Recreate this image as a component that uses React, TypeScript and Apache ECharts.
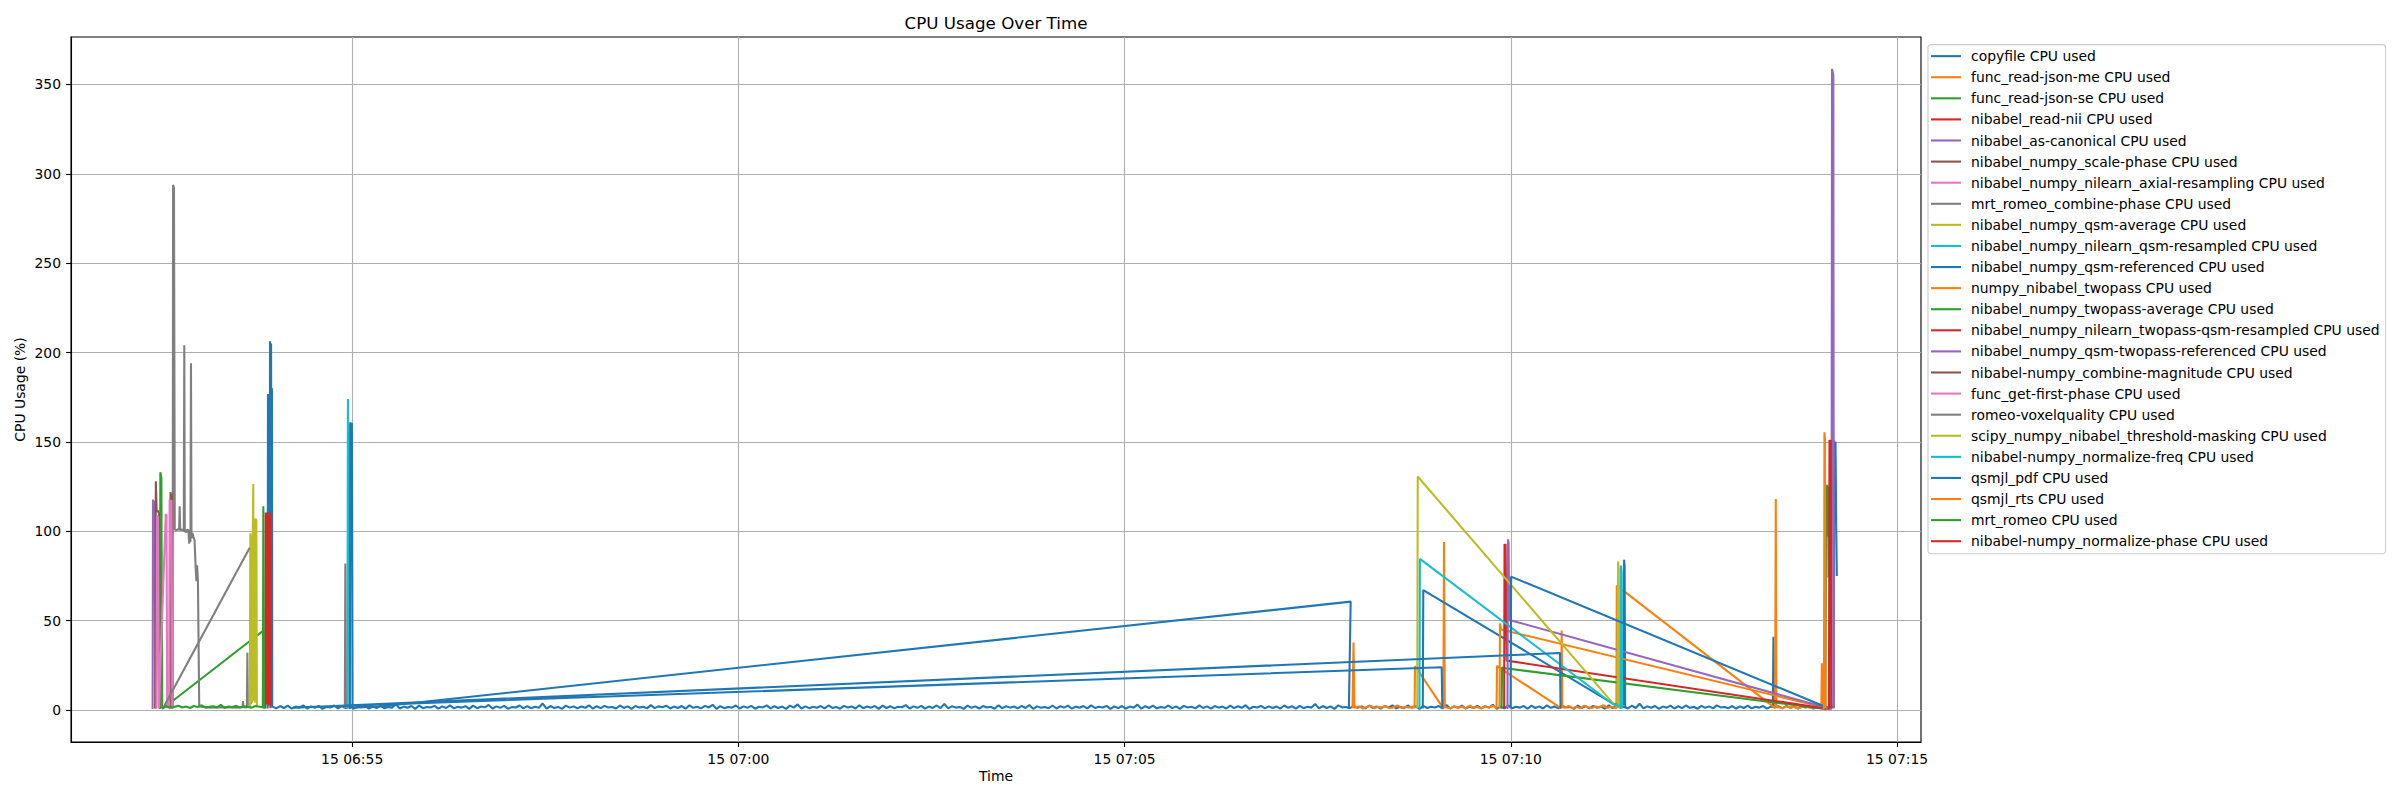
import React, { useEffect, useRef } from "react";
import * as echarts from "echarts";

type Pt = [string, number | "-"];

const FONT = "DejaVu Sans";
const COLORS = ["#1f77b4", "#ff7f0e", "#2ca02c", "#d62728", "#9467bd", "#8c564b", "#e377c2", "#7f7f7f", "#bcbd22", "#17becf"];

const seriesNames = [
  "copyfile CPU used",
  "func_read-json-me CPU used",
  "func_read-json-se CPU used",
  "nibabel_read-nii CPU used",
  "nibabel_as-canonical CPU used",
  "nibabel_numpy_scale-phase CPU used",
  "nibabel_numpy_nilearn_axial-resampling CPU used",
  "mrt_romeo_combine-phase CPU used",
  "nibabel_numpy_qsm-average CPU used",
  "nibabel_numpy_nilearn_qsm-resampled CPU used",
  "nibabel_numpy_qsm-referenced CPU used",
  "numpy_nibabel_twopass CPU used",
  "nibabel_numpy_twopass-average CPU used",
  "nibabel_numpy_nilearn_twopass-qsm-resampled CPU used",
  "nibabel_numpy_qsm-twopass-referenced CPU used",
  "nibabel-numpy_combine-magnitude CPU used",
  "func_get-first-phase CPU used",
  "romeo-voxelquality CPU used",
  "scipy_numpy_nibabel_threshold-masking CPU used",
  "nibabel-numpy_normalize-freq CPU used",
  "qsmjl_pdf CPU used",
  "qsmjl_rts CPU used",
  "mrt_romeo CPU used",
  "nibabel-numpy_normalize-phase CPU used",
];

const xTickTimes = ["06:55:00", "07:00:00", "07:05:00", "07:10:00", "07:15:00"];
const yTickValues = [0, 50, 100, 150, 200, 250, 300, 350];
const X_MIN_TIME = "06:51:21.6";
const X_MAX_TIME = "07:15:18.6";
const Y_MIN = -17.93;
const Y_MAX = 376.55;

// ---- copyfile (sampled every 3 s from 06:53:58) ----
const copyfileSpikes: Pt[] = [
  ["06:53:54.3", 0.8], ["06:53:54.6", 176.8], ["06:53:55.0", 2], ["06:53:55.4", 176], ["06:53:55.8", 3],
  ["06:53:56.2", 206.3], ["06:53:56.6", 4], ["06:53:57.0", 205], ["06:53:57.4", 3], ["06:53:57.7", 180], ["06:53:57.9", 2],
];
const copyfileNoiseA = [
  1.8, 0.9, 2.2, 1.1, 2.4, 0.7, 1.9, 1.3, 2.6, 0.8, 2.0, 1.2, 2.3, 0.6, 1.7, 1.4, 2.5, 0.9, 2.1, 1.0,
  2.2, 0.8, 1.8, 1.5, 2.7, 0.7, 2.0, 1.1, 2.4, 0.9, 1.6, 1.3, 3.2, 0.8, 1.9, 1.2, 2.2, 0.6, 2.5, 1.0,
  1.7, 1.4, 2.3, 0.7, 2.0, 1.1, 2.6, 0.9, 1.8, 1.3, 2.1, 0.6, 2.4, 1.0, 1.9, 1.5, 2.8, 0.8, 2.0, 1.2,
  2.3, 0.7, 1.6, 1.4, 2.5, 0.9, 2.1, 1.0, 1.8, 1.2, 3.6, 0.8, 2.2, 1.1, 1.7, 0.6, 2.4, 1.3, 2.0, 0.9,
  1.9, 1.2, 2.6, 0.7, 2.1, 1.0, 2.3, 1.4, 1.7, 0.8, 2.5, 1.1, 2.0, 0.6, 2.2, 1.3, 1.8, 0.9, 2.7, 1.0,
  2.0, 1.5, 2.4, 0.8, 1.9, 1.1, 2.2, 0.7, 2.6, 1.2, 1.8, 0.9, 2.3, 1.4, 2.9, 0.6, 2.1, 1.0, 1.7, 1.3,
  2.5, 0.8, 2.0, 1.2, 2.3, 0.7, 1.8, 1.4, 2.6, 0.9, 2.1, 1.1, 1.9, 0.6, 2.4, 1.3, 3.1, 0.8, 2.0, 1.0,
  1.8, 1.2, 2.2, 0.9, 2.5, 1.1, 1.7, 0.7, 2.3, 1.4, 2.0, 0.8, 2.6, 1.0, 1.9, 1.3, 2.2, 0.6, 2.4, 1.1,
  2.1, 0.9, 1.8, 1.5, 2.7, 0.8, 2.0, 1.2, 2.3, 0.7, 1.9, 1.1, 2.5, 1.0, 3.4, 0.9, 2.1, 1.3, 1.7, 0.6,
  2.4, 1.2, 2.0, 0.8, 2.2, 1.4, 1.8, 0.7, 2.6, 1.0, 2.1, 1.3, 1.9, 0.9, 2.3, 1.1, 2.8, 0.6, 2.0, 1.2,
  1.7, 1.0, 2.5, 0.8, 2.1, 1.3, 2.4, 0.7, 1.9, 1.2, 2.2, 0.9, 2.6, 1.1, 1.8, 1.4, 2.3, 0.6, 2.0, 1.0,
  2.2, 0.8, 1.9, 1.3, 3.0, 0.7, 2.1, 1.1, 2.4, 0.9, 1.7, 1.2, 2.5, 1.0, 2.0, 0.6, 2.3, 1.4, 1.8, 0.9,
  2.6, 1.1, 2.0, 0.7, 2.2, 1.3, 1.9, 0.8, 2.4, 1.0, 2.1, 1.2, 2.7, 0.6, 1.8, 1.4, 2.3, 0.9, 2.0, 1.1,
  1.9, 0.8, 2.5, 1.2, 2.1, 0.7, 2.3, 1.0, 1.8, 1.3, 3.3, 0.9, 2.2, 1.1, 2.0, 0.6, 2.6, 1.4, 1.7, 1.0,
  2.3, 1.2, 2.0, 0.8, 2.4, 1.1, 1.9, 0.7, 2.2, 1.3, 2.6, 0.9, 1.8, 1.0, 2.5, 1.2, 2.1, 0.6, 2.3, 1.1,
  1.8, 1.4, 2.2, 0.9, 2.7, 0.8, 2.0, 1.2, 2.4, 0.7, 1.9, 1.1, 2.3, 1.0, 2.1, 1.3, 2.9, 0.6, 2.0, 0.9,
  2.5, 1.0, 1.8, 1.3, 2.2, 0.7, 2.4, 1.1, 2.0, 0.8, 2.6, 1.2, 1.9, 0.9, 2.3, 1.4, 1.7, 0.6, 2.5, 1.0,
  2.1, 0.9, 2.3, 1.2, 1.9, 0.7, 2.6, 1.0, 2.2, 1.3, 1.8, 0.8, 2.4, 1.1, 3.5, 0.9, 2.0, 1.2, 2.2, 0.6,
  1.9, 1.3, 2.4, 0.8, 2.1, 1.0, 2.5, 1.1, 1.8, 0.7, 2.3, 1.2, 2.0, 0.9, 2.6, 1.4, 1.7, 1.0, 2.2, 0.8,
  2.0, 1.1, 2.4, 0.9, 1.8, 1.3, 2.2, 0.7, 1.9,
];
const copyfileMid: Pt[] = [["07:13:23.5", 1.6], ["07:13:24.0", 40.9], ["07:13:24.5", 1.8]];
const copyfileNoiseB = [2.0, 0.9, 2.3, 1.2, 1.8, 0.8, 2.1, 1.4, 1.9, 0.7, 2.4, 1.1, 2.0, 1.3, 1.7];
const copyfileEnd: Pt[] = [
  ["07:14:10.8", 1.2], ["07:14:11.2", 150.7], ["07:14:11.7", 108], ["07:14:12.2", 150], ["07:14:12.7", 106], ["07:14:13.2", 75],
];

// ---- func_read-json-me ----
const readJsonMeA: Pt[] = [["07:07:57.0", 0.8], ["07:07:57.8", 37.7], ["07:07:58.5", 1.2]];
const orangeNoise1 = [1.2, 2.0, 0.8, 1.6, 2.4, 1.0, 1.8, 1.3, 2.2, 0.9, 1.5, 2.6, 1.1, 1.7, 1.4, 2.0];
const readJsonMeB: Pt[] = [["07:08:45.2", 1.0], ["07:08:45.6", 24.6], ["07:09:07.6", 0.9], ["07:09:08.1", 94], ["07:09:08.7", 1.5]];
const orangeNoise2 = [1.4, 0.9, 2.1, 1.3, 1.8, 1.0, 2.5, 1.2, 1.6, 0.8, 1.9, 1.4, 2.2];
const readJsonMeC: Pt[] = [["07:09:48.9", 1.0], ["07:09:49.3", 24.7], ["07:09:49.8", 24.3], ["07:10:39.0", 1.0], ["07:10:39.5", 44.4], ["07:10:40.0", 1.5]];
const orangeNoise3 = [1.3, 2.2, 1.0, 1.7, 0.9, 2.4, 1.5, 1.1, 1.9, 1.4, 2.7, 1.2, 1.6];
const readJsonMeD: Pt[] = [["07:11:21.0", 1.2], ["07:11:22.0", 1.0], ["07:11:22.3", 69.6], ["07:13:25.3", 1.0], ["07:13:25.8", 118], ["07:13:26.3", 1.5]];
const orangeNoise4 = [1.5, 1.0, 2.1, 1.3, 1.8, 0.9, 1.6, 2.3, 1.2, 1.7, 1.4];
const readJsonMeE: Pt[] = [["07:14:01.2", 1.0], ["07:14:01.6", 26.1], ["07:14:02.2", 1.2]];

const readJsonSe: Pt[] = [["06:52:30.6", 0.5], ["06:52:31.0", 133], ["06:52:31.8", 130], ["06:52:32.4", 1.0], ["06:52:33.0", 0.8], ["06:53:51.0", 44.4], ["06:53:51.3", 0.8]];
const readNii: Pt[] = [
  ["06:53:52.4", 0.8], ["06:53:52.8", 110.5], ["06:53:53.3", 3], ["06:53:53.8", 110.5], ["06:53:54.3", 4],
  ["06:53:54.8", 110], ["06:53:55.3", 3], ["06:53:55.8", 110.5], ["06:53:56.3", 109], ["06:53:56.6", 1],
];
const asCanonical: Pt[] = [["06:52:25.0", 0.5], ["06:52:25.3", 117.7], ["06:52:25.8", 108], ["06:52:26.3", 117], ["06:52:26.8", 60], ["06:52:27.1", 0.8]];
const scalePhase: Pt[] = [["06:52:27.1", 0.8], ["06:52:27.5", 128], ["06:52:28.1", 112], ["06:52:28.7", 111], ["06:52:29.3", 111.5], ["06:52:29.9", 110], ["06:52:30.3", 1]];
const axialResampling: Pt[] = [["06:52:28.0", 0.8], ["06:52:28.4", 108.5], ["06:52:29.2", 108], ["06:52:29.9", 1.0], ["06:52:35.2", 109.6], ["06:52:35.8", 109], ["06:52:36.3", 1.0]];
const combinePhase: Pt[] = [
  ["06:52:40.5", 0.8], ["06:52:40.9", 293.8], ["06:52:41.6", 292], ["06:52:42.2", 101], ["06:52:43.4", 100.5], ["06:52:44.8", 101.2],
  ["06:52:45.6", 100.8], ["06:52:46.0", 114], ["06:52:46.4", 100.5], ["06:52:47.8", 101], ["06:52:49.2", 100.2], ["06:52:49.6", 204],
  ["06:52:50.0", 100], ["06:52:51.2", 99.5], ["06:52:52.0", 101], ["06:52:52.8", 100.5], ["06:52:53.4", 93], ["06:52:54.0", 97],
  ["06:52:54.4", 94], ["06:52:54.8", 194], ["06:52:55.2", 96], ["06:52:56.0", 99], ["06:52:56.8", 96.5], ["06:52:57.6", 95],
  ["06:52:58.4", 80], ["06:52:59.0", 72], ["06:52:59.6", 81], ["06:53:00.2", 72], ["06:53:01.2", 2], ["06:53:10.0", 1.2],
  ["06:53:20.0", 1.6], ["06:53:30.0", 1.3], ["06:53:34.8", 1.5], ["06:53:35.2", 5], ["06:53:35.6", 1.5], ["06:53:38.2", 1.4],
  ["06:53:38.6", 32], ["06:53:39.0", 1.2],
];
const qsmAverage: Pt[] = [
  ["06:53:40.5", 1], ["06:53:40.9", 98.9], ["06:53:41.4", 3], ["06:53:41.9", 98], ["06:53:42.4", 4], ["06:53:42.8", 99],
  ["06:53:43.2", 126.5], ["06:53:43.6", 5], ["06:53:44.1", 107.3], ["06:53:44.6", 4], ["06:53:45.1", 107], ["06:53:45.6", 106], ["06:53:46.0", 1.5],
];
const qsmResampled: Pt[] = [["06:54:56.3", 0.5], ["06:54:56.7", 174], ["06:54:57.2", 120], ["06:54:57.7", 160], ["06:54:58.1", 1]];
const qsmReferenced: Pt[] = [
  ["06:54:58.2", 0.5], ["06:54:58.6", 161], ["06:54:59.2", 158], ["06:54:59.8", 160.5], ["06:55:00.3", 1.2], ["06:55:08.0", 1.5],
  ["06:55:20.0", 1.8], ["07:07:55.6", 60.6], ["07:07:54.2", 0.6], ["07:08:20.0", "-"], ["07:08:51.6", 0.8], ["07:08:52.0", 67.1],
  ["07:11:19.4", 3.5], ["07:11:27.6", 3], ["07:11:28.0", 84], ["07:11:28.4", 80], ["07:11:28.8", 1],
];
const twopass: Pt[] = [["07:09:51.2", 0.8], ["07:09:51.6", 48.5], ["07:09:52.2", 45], ["07:09:57.5", 44.6], ["07:09:59.4", 43.8], ["07:14:08.6", 0.5]];
const twopassAverage: Pt[] = [
  ["07:09:52.8", 0.6], ["07:09:53.2", 23.9], ["07:09:54.0", 23.5], ["07:14:04.4", 0.5], ["07:14:04.9", 126], ["07:14:05.3", 97],
  ["07:14:05.7", 126], ["07:14:06.1", 98], ["07:14:06.5", 125], ["07:14:06.8", 74],
];
const twopassQsmResampled: Pt[] = [
  ["07:09:54.8", 0.6], ["07:09:55.1", 92.9], ["07:09:55.5", 50], ["07:09:55.9", 93], ["07:09:56.3", 60], ["07:09:56.8", 27.6], ["07:14:07.1", 0.5],
];
const qsmTwopassReferenced: Pt[] = [
  ["07:09:57.4", 0.6], ["07:09:57.8", 95.5], ["07:09:58.3", 93], ["07:09:58.8", 50.4], ["07:14:09.0", 0.5], ["07:14:09.5", 358.6],
  ["07:14:10.0", 357], ["07:14:10.5", 355], ["07:14:10.9", 1],
];
const combineMagnitude: Pt[] = [["06:52:38.5", 0.8], ["06:52:38.9", 121.9], ["06:52:39.4", 72], ["06:52:39.9", 121], ["06:52:40.3", 1]];
const getFirstPhase: Pt[] = [["06:52:37.8", 0.8], ["06:52:38.2", 117.7], ["06:52:38.9", 116], ["06:52:39.6", 117.5], ["06:52:40.3", 1]];
const voxelQuality: Pt[] = [["06:52:33.0", 0.8], ["06:53:40.4", 90.8], ["06:54:20.0", "-"], ["06:54:54.3", 1.0], ["06:54:54.7", 82], ["06:54:55.1", 1.0]];
const thresholdMasking: Pt[] = [["07:08:47.3", 0.8], ["07:08:47.7", 130.6], ["07:11:19.4", 3.7], ["07:11:22.9", 2.0], ["07:11:23.3", 83], ["07:11:23.8", 79], ["07:11:24.2", 1]];
const normalizeFreq: Pt[] = [["07:08:49.0", 0.8], ["07:08:49.4", 84.5], ["07:11:19.4", 3.2], ["07:11:25.2", 2.0], ["07:11:25.6", 80.8], ["07:11:26.1", 77], ["07:11:26.5", 1]];
const qsmjlPdf: Pt[] = [
  ["06:54:19.0", 1.4], ["07:10:38.2", 31.9], ["07:10:38.6", 0.8], ["07:10:39.0", "-"], ["06:54:14.0", 1.3], ["07:09:06.3", 23.9],
  ["07:09:06.8", 0.8], ["07:09:30.0", "-"], ["07:09:59.8", 0.8], ["07:10:00.2", 74.6], ["07:14:01.8", 2.5], ["07:14:05.0", 1.0],
];
const qsmjlRts: Pt[] = [["07:14:03.2", 0.5], ["07:14:03.6", 155.4], ["07:14:04.0", 152], ["07:14:04.4", 1]];
const romeoNoise = [1.5, 2.0, 1.2, 1.8, 2.4, 1.4, 1.9, 1.1, 2.2, 1.6, 2.6, 1.3, 1.8, 2.1, 1.5, 2.8, 1.2, 1.9, 1.6, 2.3, 1.4, 2.0, 1.7, 1.3, 2.2, 1.8];
const romeoEnd: Pt[] = [["06:53:50.6", 1.5], ["06:53:51.0", 114], ["06:53:51.5", 1]];
const normalizePhase: Pt[] = [["07:14:07.1", 0.5], ["07:14:07.5", 151], ["07:14:08.0", 150], ["07:14:08.5", 151], ["07:14:08.9", 1]];

// ---- helpers ----
const T0 = 6 * 3600 + 50 * 60;
const toSec = (s: string): number => {
  const [h, m, x] = s.split(":").map(Number);
  return h * 3600 + m * 60 + x - T0;
};
const pts = (a: Pt[]) => a.map(([t, v]) => [toSec(t), v]);
const run = (start: string, step: number, values: number[]) => values.map((v, i) => [toSec(start) + i * step, v]);

const seriesData = [
  [...pts(copyfileSpikes), ...run("06:53:58", 3, copyfileNoiseA), ...pts(copyfileMid), ...run("07:13:28", 3, copyfileNoiseB), ...pts(copyfileEnd)],
  [
    ...pts(readJsonMeA), ...run("07:07:59", 3, orangeNoise1), ...pts(readJsonMeB), ...run("07:09:10", 3, orangeNoise2),
    ...pts(readJsonMeC), ...run("07:10:42", 3, orangeNoise3), ...pts(readJsonMeD), ...run("07:13:28", 3, orangeNoise4), ...pts(readJsonMeE),
  ],
  pts(readJsonSe),
  pts(readNii),
  pts(asCanonical),
  pts(scalePhase),
  pts(axialResampling),
  pts(combinePhase),
  pts(qsmAverage),
  pts(qsmResampled),
  pts(qsmReferenced),
  pts(twopass),
  pts(twopassAverage),
  pts(twopassQsmResampled),
  pts(qsmTwopassReferenced),
  pts(combineMagnitude),
  pts(getFirstPhase),
  pts(voxelQuality),
  pts(thresholdMasking),
  pts(normalizeFreq),
  pts(qsmjlPdf),
  pts(qsmjlRts),
  [...run("06:52:33", 3, romeoNoise), ...pts(romeoEnd)],
  pts(normalizePhase),
];

const pad = (n: number) => String(n).padStart(2, "0");
const fmtX = (v: number) => {
  const tot = Math.round(v + T0);
  return `15 ${pad(Math.floor(tot / 3600))}:${pad(Math.floor((tot % 3600) / 60))}`;
};

export default function App() {
  const ref = useRef<HTMLDivElement>(null);
  useEffect(() => {
    if (!ref.current) return;
    const chart = echarts.init(ref.current, undefined, { renderer: "svg" });
    const xTicks = xTickTimes.map(toSec);
    const axisText = { fontSize: 13.9, color: "#000", fontFamily: FONT };
    chart.setOption({
      animation: false,
      backgroundColor: "#ffffff",
      textStyle: { fontFamily: FONT },
      graphic: [
        {
          type: "text",
          x: 996,
          y: 23,
          silent: true,
          style: { text: "CPU Usage Over Time", align: "center", verticalAlign: "middle", fontSize: 16.7, fill: "#000", fontFamily: FONT },
        },
      ],
      grid: { left: 71, right: 479, top: 37, bottom: 58, show: true, borderColor: "#000", borderWidth: 1.1, backgroundColor: "#fff", outerBoundsMode: "none" },
      xAxis: {
        type: "value",
        position: "bottom",
        min: toSec(X_MIN_TIME),
        max: toSec(X_MAX_TIME),
        name: "Time",
        nameLocation: "middle",
        nameGap: 27,
        nameMoveOverlap: false,
        nameTextStyle: axisText,
        axisLine: { show: true, onZero: false, lineStyle: { color: "#000", width: 1.1 } },
        axisTick: { show: true, length: 4.9, customValues: xTicks, lineStyle: { color: "#000", width: 1.1 } },
        axisLabel: { customValues: xTicks, formatter: fmtX, margin: 10, ...axisText },
        splitLine: { show: true, lineStyle: { color: "#b0b0b0", width: 1.1 } },
      },
      yAxis: {
        type: "value",
        position: "left",
        min: Y_MIN,
        max: Y_MAX,
        name: "CPU Usage (%)",
        nameLocation: "middle",
        nameGap: 44,
        nameMoveOverlap: false,
        nameTextStyle: axisText,
        axisLine: { show: true, onZero: false, lineStyle: { color: "#000", width: 1.1 } },
        axisTick: { show: true, length: 4.9, customValues: yTickValues, lineStyle: { color: "#000", width: 1.1 } },
        axisLabel: { customValues: yTickValues, margin: 10, ...axisText },
        splitLine: { show: true, lineStyle: { color: "#b0b0b0", width: 1.1 } },
      },
      legend: {
        type: "plain",
        data: seriesNames,
        orient: "vertical",
        left: 1928,
        top: 44.6,
        itemWidth: 30,
        itemHeight: 2.1,
        itemGap: 0,
        icon: "rect",
        selectedMode: false,
        padding: [1, 6, 2, 3],
        backgroundColor: "#fff",
        borderColor: "#cccccc",
        borderWidth: 1.1,
        borderRadius: 3,
        textStyle: { fontSize: 13.9, lineHeight: 21.09, color: "#000", fontFamily: FONT, padding: [0, 0, 0, 5] },
      },
      series: seriesNames.map((name, i) => ({
        name,
        type: "line",
        data: seriesData[i],
        showSymbol: false,
        symbol: "none",
        silent: true,
        clip: true,
        connectNulls: false,
        lineStyle: { width: 2.08, color: COLORS[i % 10] },
        itemStyle: { color: COLORS[i % 10] },
        emphasis: { disabled: true },
      })),
    });
    return () => chart.dispose();
  }, []);
  return <div ref={ref} style={{ position: "fixed", left: 0, top: 0, width: 2400, height: 800 }} />;
}
